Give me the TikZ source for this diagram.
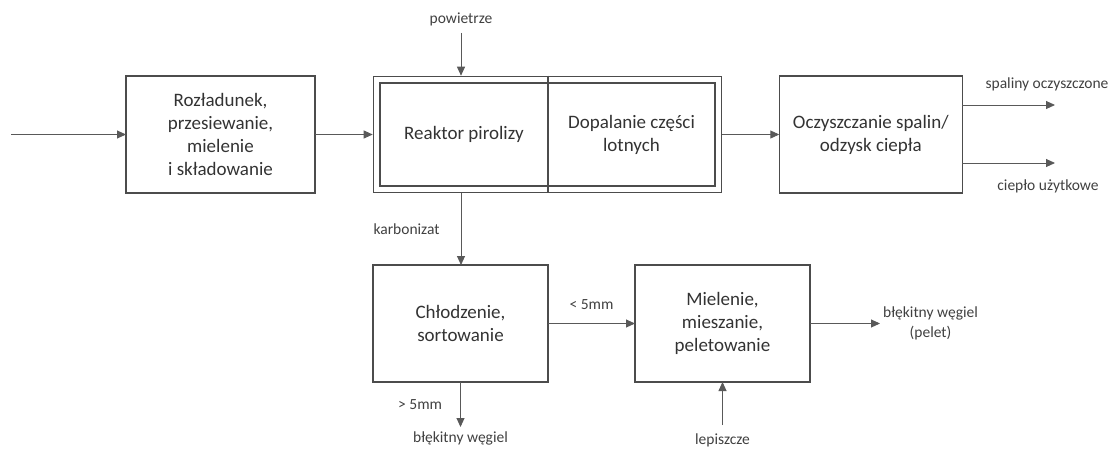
\documentclass[tikz,border=0pt]{standalone}
\usepackage{fontspec}
\setmainfont{Carlito}
\usetikzlibrary{positioning,fit,arrows.meta}

\begin{document}
\begin{tikzpicture}[
    node distance=60pt and 60pt,
    stepbox/.style={rectangle, draw=black!70, line width=1.4pt, text=black!80, outer sep=0pt, align=center, font=\fontsize{19}{23}\selectfont, minimum width=175pt, minimum height=117pt},
    innerbox/.style={rectangle, draw=black!70, line width=1.2pt, text=black!80, outer sep=0pt, align=center, font=\fontsize{19}{23}\selectfont, minimum width=168pt, minimum height=103pt},
    flowtext/.style={text=black!75, inner sep=1pt, align=center, font=\fontsize{15.5}{19.5}\selectfont},
    arrow/.style={-{Triangle[length=9pt,width=8pt]}, line width=0.9pt, draw=black!65}
]
    \useasboundingbox (0,0) rectangle (1115pt,-450pt);

    % Upper line
    \node[stepbox, minimum width=189pt] (unload) at (220.5pt,-134.5pt) {Rozładunek,\\przesiewanie,\\mielenie\\i składowanie};
    \node[innerbox, right=65pt of unload] (reactor) {Reaktor pirolizy};
    \node[innerbox, minimum width=167pt, right=0pt of reactor] (afterburn) {Dopalanie części\\lotnych};
    \node[draw=black!70, line width=1.6pt, inner sep=6.5pt, fit=(reactor)(afterburn)] (reactorbox) {};
    \draw[draw=black!70, line width=1.6pt] (reactor.east |- reactorbox.north) -- (reactor.east |- reactorbox.south);
    \node[stepbox, minimum width=183pt, right=57pt of reactorbox] (cleaning) {Oczyszczanie spalin/\\odzysk ciepła};

    % Lower line
    \node[stepbox] (cooling) at (460.5pt,-323.5pt) {Chłodzenie,\\sortowanie};
    \node[stepbox, right=87pt of cooling] (milling) {Mielenie,\\mieszanie,\\peletowanie};

    % Free ends
    \coordinate (feed) at (11pt,-134.5pt);
    \node[flowtext] (air) at (461pt,-19pt) {powietrze};
    \coordinate[below=6pt of air] (airin);
    \coordinate (fluegas) at (1055pt,-105pt);
    \coordinate (heat) at (1055pt,-163pt);
    \node[flowtext] (fluegaslbl) at (1047pt,-84pt) {spaliny oczyszczone};
    \node[flowtext] (heatlbl) at (1048pt,-186pt) {ciepło użytkowe};
    \coordinate[below=45pt of cooling] (coarseout);
    \node[flowtext, below=4pt of coarseout] (coarselbl) {błękitny węgiel};
    \coordinate[below=43pt of milling] (binderin);
    \node[flowtext, below=8pt of binderin] (binderlbl) {lepiszcze};
    \coordinate[right=70pt of milling] (pelletout);
    \node[flowtext, right=2pt of pelletout] (pelletlbl) {błękitny węgiel\\(pelet)};

    % Arrows - main flow
    \draw[arrow] (feed) -- (unload);
    \draw[arrow] (unload) -- (reactorbox);
    \draw[arrow] (airin) -- (airin |- reactorbox.north);
    \draw[arrow] (reactorbox) -- (cleaning);
    \draw[arrow] (cleaning.east |- fluegas) -- (fluegas);
    \draw[arrow] (cleaning.east |- heat) -- (heat);
    \draw[arrow] (reactorbox.south -| airin) -- node[flowtext, left=20pt] {karbonizat} (cooling.north -| airin);

    % Arrows - char treatment
    \draw[arrow] (cooling) -- node[flowtext, above=12pt] {< 5mm} (milling);
    \draw[arrow] (cooling) -- node[flowtext, left=17pt] {> 5mm} (coarseout);
    \draw[arrow] (binderin) -- (milling);
    \draw[arrow] (milling) -- (pelletout);

\end{tikzpicture}
\end{document}
